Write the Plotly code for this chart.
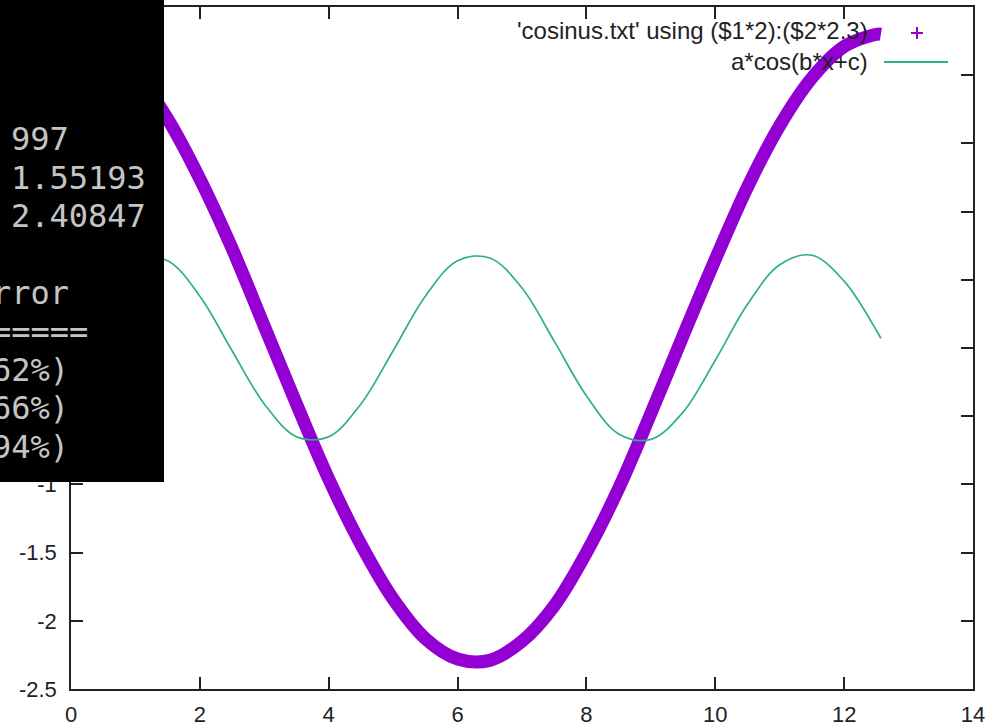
import plotly.graph_objects as go

# ---- data ----
data_x = [0.0, 0.5, 1.0, 1.5, 2.0, 2.5, 3.0, 3.5, 4.0, 4.5, 5.0, 5.5, 6.0, 6.5,
          7.0, 7.5, 8.0, 8.5, 9.0, 9.5, 10.0, 10.5, 11.0, 11.5, 12.0, 12.5, 12.57]
data_y = [2.30, 2.23, 2.02, 1.68, 1.24, 0.73, 0.16, -0.41, -0.96, -1.44, -1.84,
          -2.13, -2.28, -2.29, -2.15, -1.89, -1.50, -1.03, -0.48, 0.09, 0.65,
          1.18, 1.63, 1.98, 2.21, 2.30, 2.30]

fit_x = [0.0, 0.5, 1.0, 1.5, 2.0, 2.5, 3.0, 3.5, 4.0, 4.5, 5.0, 5.5, 6.0, 6.5,
         7.0, 7.5, 8.0, 8.5, 9.0, 9.5, 10.0, 10.5, 11.0, 11.5, 12.0, 12.5, 12.57]
fit_y = [0.06, 0.44, 0.66, 0.64, 0.38, -0.02, -0.41, -0.65, -0.65, -0.41, -0.02,
         0.38, 0.64, 0.66, 0.44, 0.05, -0.35, -0.63, -0.67, -0.47, -0.09, 0.32,
         0.61, 0.68, 0.49, 0.13, 0.07]

x_ticks = [0, 2, 4, 6, 8, 10, 12, 14]
x_tick_labels = ["0", "2", "4", "6", "8", "10", "12", "14"]
y_ticks = [-2.5, -2, -1.5, -1, -0.5, 0, 0.5, 1, 1.5, 2, 2.5]
y_tick_labels = ["-2.5", "-2", "-1.5", "-1", "-0.5", "0", "0.5", "1", "1.5", "2", "2.5"]

legend_labels = ["'cosinus.txt' using ($1*2):($2*2.3)", "a*cos(b*x+c)"]
terminal_lines = ["997", "1.55193", "2.40847", "rror", "=====", "62%)", "66%)", "94%)"]
terminal_cols = [0, 0, 0, -1, -1, -1, -1, -1]          # starting column of each line
terminal_rows = [0, 1, 2, 4, 5, 6, 7, 8]               # row index of each line

PURPLE = "#9400d3"
GREEN = "#2fae8c"
AXIS = "#222222"

W, H = 994, 727
ML, MR, MT, MB = 71, 21, 7, 38
PW, PH = W - ML - MR, H - MT - MB


def px_x(px):
    return (px - ML) / PW


def px_y(py):
    return (H - MB - py) / PH


fig = go.Figure()
fig.add_trace(go.Scatter(x=data_x, y=data_y, mode="lines",
                         line=dict(color=PURPLE, width=13, shape="spline"),
                         name=legend_labels[0], showlegend=False, hoverinfo="skip"))
fig.add_trace(go.Scatter(x=fit_x, y=fit_y, mode="lines",
                         line=dict(color=GREEN, width=1.7, shape="spline"),
                         name=legend_labels[1], showlegend=False, hoverinfo="skip"))

axis_common = dict(showline=True, linecolor=AXIS, linewidth=1.5, mirror="ticks",
                   ticks="inside", ticklen=12, tickwidth=1.5, tickcolor=AXIS,
                   showgrid=False, zeroline=False, automargin=False,
                   tickfont=dict(family="Liberation Sans", size=22, color=AXIS))

fig.update_xaxes(range=[0, 14], tickvals=x_ticks, ticktext=x_tick_labels,
                 ticklabelstandoff=5, **axis_common)
fig.update_yaxes(range=[-2.5, 2.5], tickvals=y_ticks, ticktext=y_tick_labels,
                 ticklabelstandoff=8, **axis_common)

shapes = []
annotations = []

# black terminal window overlay
shapes.append(dict(type="rect", xref="paper", yref="paper",
                   x0=px_x(-5), x1=px_x(164), y0=px_y(482), y1=px_y(-5),
                   fillcolor="#000000", line=dict(width=0), layer="above"))

char_w = 19.26
col0 = 10.8
for txt, c, r in zip(terminal_lines, terminal_cols, terminal_rows):
    annotations.append(dict(text=txt, xref="paper", yref="paper",
                            x=px_x(col0 + c * char_w - 2), y=px_y(139 + r * 38.5),
                            xanchor="left", yanchor="middle", showarrow=False,
                            font=dict(family="DejaVu Sans Mono", size=32, color="#c4c4c4")))

# key (gnuplot style: text right aligned, sample to the right)
key_rows = [31, 61]
for txt, yy in zip(legend_labels, key_rows):
    annotations.append(dict(text=txt, xref="paper", yref="paper",
                            x=px_x(870), y=px_y(yy), xanchor="right", yanchor="middle",
                            showarrow=False,
                            font=dict(family="Liberation Sans", size=24, color=AXIS)))
# purple '+' sample
shapes.append(dict(type="line", xref="paper", yref="paper",
                   x0=px_x(911), x1=px_x(923), y0=px_y(33), y1=px_y(33),
                   line=dict(color=PURPLE, width=2), layer="above"))
shapes.append(dict(type="line", xref="paper", yref="paper",
                   x0=px_x(917), x1=px_x(917), y0=px_y(27), y1=px_y(39),
                   line=dict(color=PURPLE, width=2), layer="above"))
# green line sample
shapes.append(dict(type="line", xref="paper", yref="paper",
                   x0=px_x(884), x1=px_x(948), y0=px_y(62), y1=px_y(62),
                   line=dict(color=GREEN, width=1.8), layer="above"))

fig.update_layout(template="none", width=W, height=H,
                  margin=dict(l=ML, r=MR, t=MT, b=MB, autoexpand=False),
                  plot_bgcolor="white", paper_bgcolor="white", showlegend=False,
                  hovermode=False, shapes=shapes, annotations=annotations)

fig.write_html("out.html", config={"displayModeBar": False},
               post_script="document.body.style.margin='0px';document.body.style.overflow='hidden';")
